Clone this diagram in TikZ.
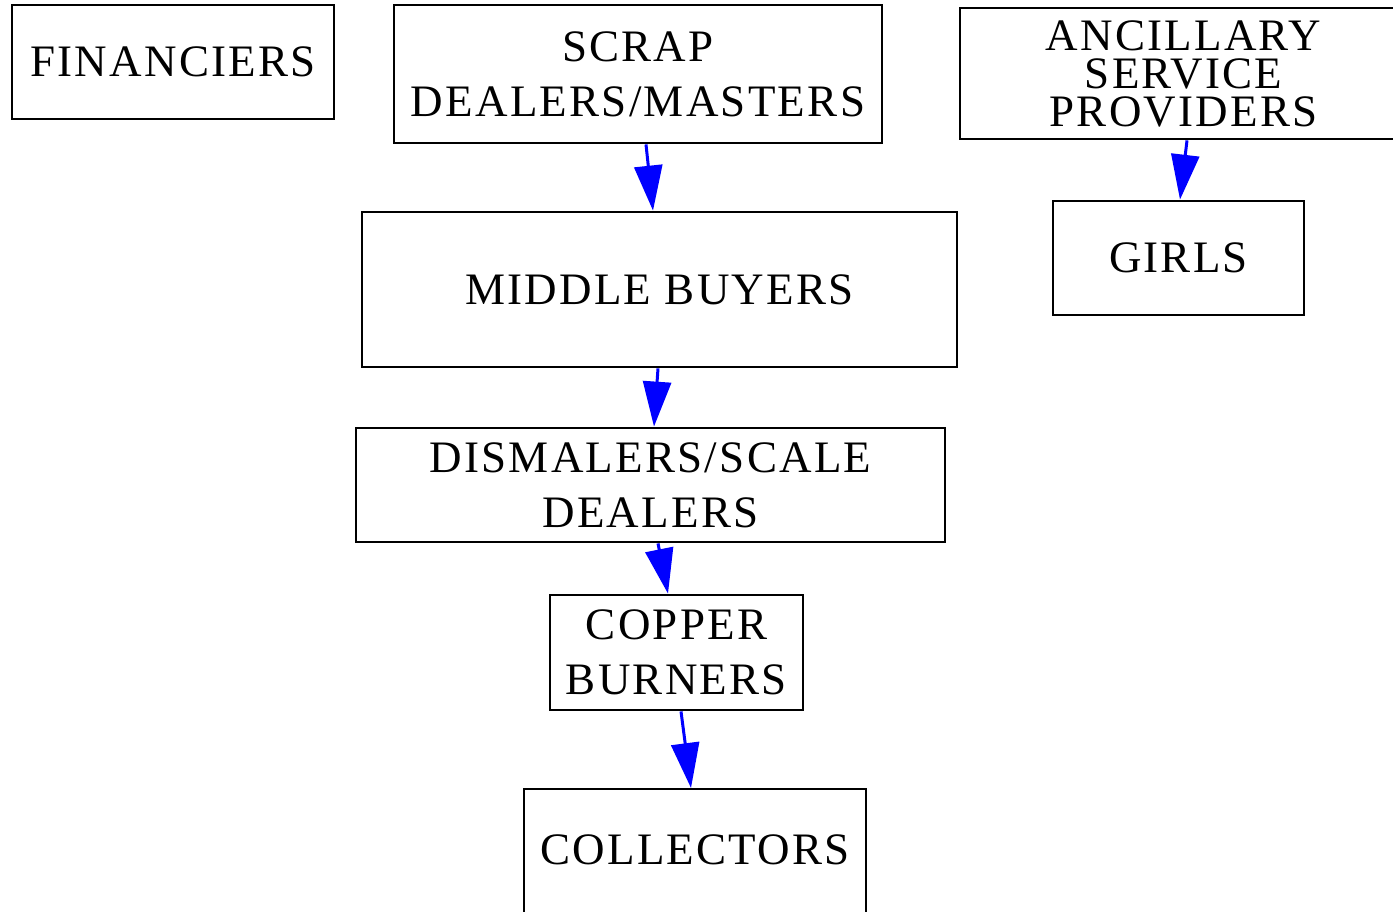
\documentclass[tikz,border=0pt]{standalone}
\usepackage{fontspec}
\setmainfont{Liberation Serif}[LetterSpace=5]
\usetikzlibrary{arrows.meta}
\begin{document}
\begin{tikzpicture}[x=1pt,y=-1pt,
  box/.style={draw=black, line width=2.8pt, inner sep=0pt, align=center,
    font=\fontsize{45}{55}\selectfont},
  flow/.style={draw=blue, line width=3pt, -{Triangle[length=45pt,width=28pt]}}]
\clip (0,0) rectangle (1393,911);
\node[box, minimum width=322pt, minimum height=114pt] (fin) at (173,62) {FINANCIERS};
\node[box, minimum width=488pt, minimum height=138pt] (scrap) at (638,74) {SCRAP\\DEALERS/MASTERS};
\node[box, minimum width=447pt, minimum height=131pt, font=\fontsize{45}{38}\selectfont] (anc) at (1183.5,73.5) {ANCILLARY\\SERVICE\\PROVIDERS};
\node[box, minimum width=251pt, minimum height=114pt] (girls) at (1178.5,258) {GIRLS};
\node[box, minimum width=595pt, minimum height=155pt] (middle) at (659.5,289.5) {MIDDLE BUYERS};
\node[box, minimum width=589pt, minimum height=114pt] (dism) at (650.5,485) {DISMALERS/SCALE\\DEALERS};
\node[box, minimum width=253pt, minimum height=115pt] (copper) at (676.5,652.5) {COPPER\\BURNERS};
\node[box, line width=2.4pt, anchor=north, minimum width=342pt, text height=75pt, text depth=60pt] (coll) at (695,788) {COLLECTORS};
\draw[flow] ([xshift=8pt]scrap.south) -- ([xshift=-6.5pt]middle.north);
\draw[flow] ([xshift=-1.5pt]middle.south) -- ([xshift=3.5pt]dism.north);
\draw[flow] ([xshift=7.5pt]dism.south) -- ([xshift=-8.5pt]copper.north);
\draw[flow] ([xshift=4.5pt]copper.south) -- ([xshift=-4pt]coll.north);
\draw[flow] ([xshift=3.5pt]anc.south) -- ([xshift=1.5pt]girls.north);
\end{tikzpicture}
\end{document}
